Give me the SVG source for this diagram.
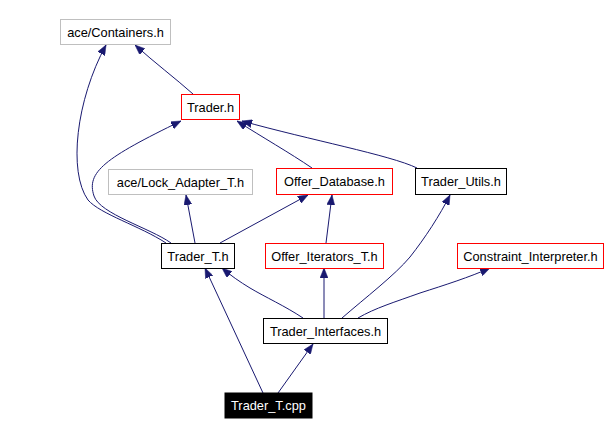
<svg xmlns="http://www.w3.org/2000/svg" width="608" height="435" viewBox="0 0 608 435">
<style>
.n rect{fill:#fff;stroke-width:1}
.g rect{stroke:#bfbfbf}
.r rect{stroke:#ff0000}
.b rect{stroke:#000}
.n text{font-family:"Liberation Sans",Arial,sans-serif;font-size:12.8px;text-anchor:middle;fill:#000}
.k rect{fill:#000;stroke:#000}
.k text{fill:#fff}
#edges path{fill:none;stroke:#191970;stroke-width:1;marker-end:url(#ah)}
</style>
<defs>
<marker id="ah" viewBox="0 0 10 8" refX="10" refY="4" markerWidth="10" markerHeight="8" markerUnits="userSpaceOnUse" orient="auto">
<path d="M0,0 L10,4 L0,8 z" fill="#191970" stroke="#191970" stroke-width="0.5"/>
</marker>
</defs>
<rect width="608" height="435" fill="#fff"/>
<g id="edges">
<path d="M193,94 C175,78 155,63 135,45"/>
<path d="M166,243 C140,226 100,214 88,200 C68,172 76,100 106,45"/>
<path d="M171,243 C150,228 100,214 94,196 C86,172 105,158 181,121"/>
<path d="M312,168 C290,153 262,137 237,121"/>
<path d="M417,168 C390,155 310,140 242,121"/>
<path d="M195,243 L186,195"/>
<path d="M220,243 L308,195"/>
<path d="M326,243 L332,195"/>
<path d="M342,318 C365,298 395,275 410,257 C425,238 440,215 450,195"/>
<path d="M358,318 C375,308 395,302 420,293 C445,285 470,277 490,268"/>
<path d="M303,318 C285,306 265,297 250,288 C240,282 230,275 222,268"/>
<path d="M324,318 L324,268"/>
<path d="M263,393 L205,268"/>
<path d="M278,393 L313,344"/>
</g>
<g id="containers" class="n g"><rect x="60.5" y="19.5" width="110" height="25"/><text x="115.5" y="36.5">ace/Containers.h</text></g>
<g id="trader_h" class="n r"><rect x="181.5" y="94.5" width="58" height="25"/><text x="210.5" y="111.5">Trader.h</text></g>
<g id="lock_adapter" class="n g"><rect x="108.5" y="169.5" width="144" height="25"/><text x="180.5" y="186.5">ace/Lock_Adapter_T.h</text></g>
<g id="offer_database" class="n r"><rect x="276.5" y="168.5" width="116" height="26"/><text x="334.5" y="186">Offer_Database.h</text></g>
<g id="trader_utils" class="n b"><rect x="415.5" y="168.5" width="91" height="26"/><text x="461" y="186">Trader_Utils.h</text></g>
<g id="trader_t_h" class="n b"><rect x="161.5" y="243.5" width="73" height="25"/><text x="198" y="260.5">Trader_T.h</text></g>
<g id="offer_iterators" class="n r"><rect x="265.5" y="243.5" width="118" height="25"/><text x="324.5" y="260.5">Offer_Iterators_T.h</text></g>
<g id="constraint" class="n r"><rect x="457.5" y="243.5" width="146" height="25"/><text x="530.5" y="260.5">Constraint_Interpreter.h</text></g>
<g id="interfaces" class="n b"><rect x="263.5" y="318.5" width="124" height="25"/><text x="325.5" y="335.5">Trader_Interfaces.h</text></g>
<g id="trader_t_cpp" class="n k"><rect x="225" y="393" width="87" height="25"/><text x="268.5" y="410">Trader_T.cpp</text></g>
</svg>
